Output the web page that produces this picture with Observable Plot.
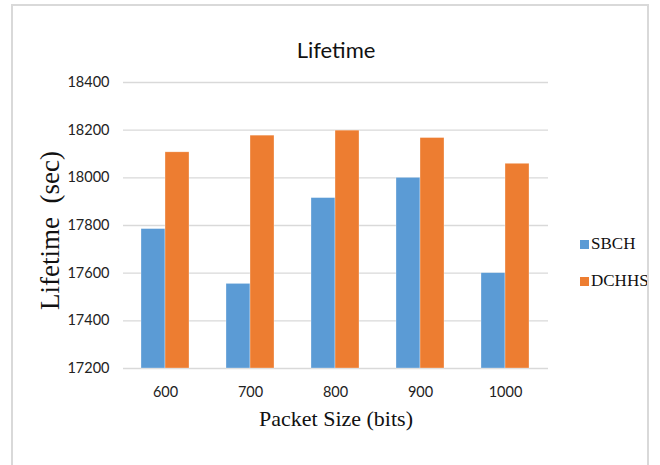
<!DOCTYPE html>
<html>
<head>
<meta charset="utf-8">
<script src="https://cdn.jsdelivr.net/npm/d3@7"></script>
<script src="https://cdn.jsdelivr.net/npm/@observablehq/plot@0.6"></script>
<style>
  html, body { margin: 0; padding: 0; background: #fff; }
  #wrap { position: relative; width: 660px; height: 465px; overflow: hidden; }
  #border { position: absolute; left: 11px; top: 4px; width: 638px; height: 480px; border: 2px solid #d9d9d9; box-sizing: border-box; pointer-events: none; }
  #legend { position: absolute; left: 580px; top: 233px; color: #111; }
</style>
</head>
<body>
<div id="wrap">
  <div id="chart"></div>
  <div id="legend"></div>
  <div id="border"></div>
</div>
<script>
const categories = ["600", "700", "800", "900", "1000"];
const seriesNames = ["SBCH", "DCHHS"];
const sbchValues = [17785, 17555, 17915, 18000, 17600];
const dchhsValues = [18107, 18177, 18198, 18167, 18059];
const yTickValues = [17200, 17400, 17600, 17800, 18000, 18200, 18400];
const seriesColors = ["#5B9BD5", "#ED7D31"];
const chartTitle = "Lifetime";
const xTitle = "Packet Size (bits)";
const yTitle = "Lifetime  (sec)";

const rows = [];
categories.forEach((c, i) => {
  rows.push({size: c, series: "SBCH", value: sbchValues[i]});
  rows.push({size: c, series: "DCHHS", value: dchhsValues[i]});
});
const yMin = yTickValues[0];
const yMax = yTickValues[yTickValues.length - 1];

const width = 660, height = 465;
const marginLeft = 123, marginRight = 112;
const pad = 0.435;
const step = (width - marginLeft - marginRight) / categories.length;
const half = step * (1 - pad) / 2;

const chart = Plot.plot({
  width, height,
  marginLeft, marginRight, marginTop: 82, marginBottom: 97,
  style: {fontFamily: "Lato, sans-serif", fontSize: "14.5px", color: "#222", background: "#fff"},
  x: {domain: categories, paddingInner: pad, paddingOuter: pad / 2, label: null},
  y: {domain: [yMin, yMax], label: null},
  marks: [
    Plot.gridY(yTickValues, {stroke: "#d9d9d9", strokeOpacity: 1, strokeWidth: 1.3}),
    Plot.axisY({ticks: yTickValues, tickSize: 0, tickPadding: 14, label: null, tickFormat: d => String(d)}),
    Plot.axisX({tickSize: 0, tickPadding: 18, label: null}),
    Plot.barY(rows.filter(d => d.series === seriesNames[0]), {
      x: "size", y1: () => yMin, y2: "value", fill: seriesColors[0],
      insetRight: half, stroke: "#fff", strokeOpacity: 0.5, strokeWidth: 0.6
    }),
    Plot.barY(rows.filter(d => d.series === seriesNames[1]), {
      x: "size", y1: () => yMin, y2: "value", fill: seriesColors[1],
      insetLeft: half, stroke: "#fff", strokeOpacity: 0.5, strokeWidth: 0.6
    }),
    Plot.text([chartTitle], {frameAnchor: "top", dy: -40, fontSize: 22, fontFamily: "Lato, sans-serif", fill: "#111"}),
    Plot.text([xTitle], {frameAnchor: "bottom", dy: 57, fontSize: 22, fontFamily: "Liberation Serif, serif", fill: "#111"}),
    Plot.text([yTitle], {frameAnchor: "left", textAnchor: "middle", dx: -73, dy: 5, rotate: -90, fontSize: 27, fontFamily: "Liberation Serif, serif", fill: "#111"})
  ]
});
document.getElementById("chart").appendChild(chart);

const legend = document.getElementById("legend");
seriesNames.forEach((name, i) => {
  const item = document.createElement("div");
  item.style.cssText = "display:flex;align-items:center;height:22px;margin-bottom:15px;";
  const sw = document.createElement("span");
  sw.style.cssText = "display:inline-block;width:9px;height:9px;margin-right:2px;background:" + seriesColors[i] + ";";
  const label = document.createElement("span");
  label.style.cssText = "font-family:'Liberation Serif',serif;font-size:17px;line-height:22px;";
  label.textContent = name;
  item.appendChild(sw);
  item.appendChild(label);
  legend.appendChild(item);
});
</script>
</body>
</html>
